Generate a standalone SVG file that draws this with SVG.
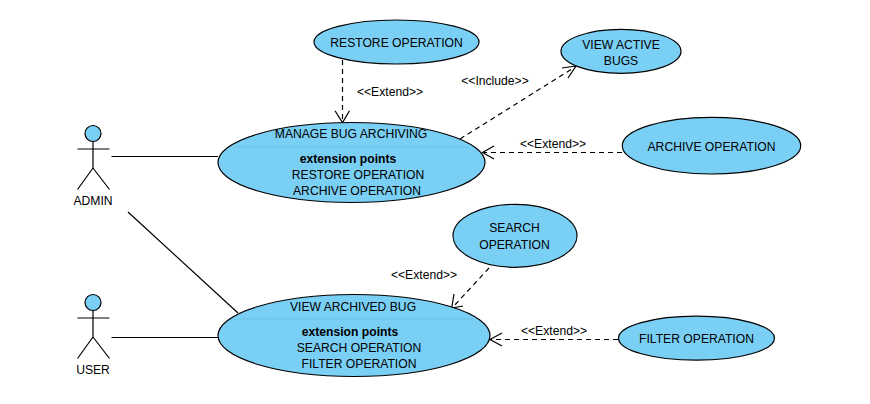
<svg xmlns="http://www.w3.org/2000/svg" width="870" height="404" viewBox="0 0 870 404">
<style>
text{font-family:"Liberation Sans",Arial,sans-serif;font-size:12.15px;fill:#000;text-anchor:middle}
.b{font-weight:bold}
.u{fill:#7acff5;stroke:#000;stroke-width:1.2}
.d{stroke:#6fc0e6;stroke-width:1;fill:none}
.a{fill:none;stroke:#000;stroke-width:1.2}
.c{fill:none;stroke:#000;stroke-width:1.2}
.x{fill:none;stroke:#000;stroke-width:1.2;stroke-dasharray:5 4}
</style>
<rect width="870" height="404" fill="#fff"/>
<g id="connectors">
<path class="c" d="M111.500 156.500H218"/>
<path class="c" d="M111.500 337.500H218"/>
<path class="c" d="M128 212L238 313"/>
<path class="x" d="M342.500 60V121"/>
<path class="c" d="M335 110.700L342.500 122.500L349.500 110.700"/>
<path class="x" d="M460 139L575 67"/>
<path class="c" d="M562 68L576 66L568 78"/>
<path class="x" d="M622 152.500H484"/>
<path class="c" d="M494 146L482.500 152.500L494 159"/>
<path class="x" d="M489 268L453 307"/>
<path class="c" d="M454 294L451.700 308L463 306"/>
<path class="x" d="M618 339.500H491"/>
<path class="c" d="M502 333L490 339.500L502 346"/>
<text x="390" y="96">&lt;&lt;Extend&gt;&gt;</text>
<text x="495" y="85">&lt;&lt;Include&gt;&gt;</text>
<text x="553" y="148">&lt;&lt;Extend&gt;&gt;</text>
<text x="424" y="279">&lt;&lt;Extend&gt;&gt;</text>
<text x="554" y="335">&lt;&lt;Extend&gt;&gt;</text>
</g>
<g id="actor-admin">
<circle class="u" cx="93" cy="133.500" r="8"/>
<path class="a" d="M93 141.500V168M77.500 149H109.500M93 168L77.500 189.500M93 168L109.500 189.500"/>
<text x="93" y="205">ADMIN</text>
</g>
<g id="actor-user">
<circle class="u" cx="93" cy="302.500" r="8"/>
<path class="a" d="M93 310.500V337M77.500 318H109.500M93 337L77.500 358.500M93 337L109.500 358.500"/>
<text x="93" y="374">USER</text>
</g>
<g id="manage-bug-archiving">
<ellipse class="u" cx="351.500" cy="162.500" rx="133.500" ry="40"/>
<path class="d" d="M234 147H469"/>
<text x="351" y="138">MANAGE BUG ARCHIVING</text>
<text class="b" x="348" y="163">extension points</text>
<text x="358" y="179">RESTORE OPERATION</text>
<text x="357" y="195">ARCHIVE OPERATION</text>
</g>
<g id="view-archived-bug">
<ellipse class="u" cx="354" cy="335.500" rx="136" ry="41"/>
<path class="d" d="M234 319H474"/>
<text x="353" y="311">VIEW ARCHIVED BUG</text>
<text class="b" x="350" y="336">extension points</text>
<text x="359" y="352">SEARCH OPERATION</text>
<text x="359" y="368">FILTER OPERATION</text>
</g>
<g id="restore-operation">
<ellipse class="u" cx="396.500" cy="42" rx="82.500" ry="22"/>
<text x="396.500" y="47">RESTORE OPERATION</text>
</g>
<g id="view-active-bugs">
<ellipse class="u" cx="621" cy="51.300" rx="60" ry="22"/>
<text x="621" y="48.500">VIEW ACTIVE</text>
<text x="621" y="65">BUGS</text>
</g>
<g id="archive-operation">
<ellipse class="u" cx="711.500" cy="145.700" rx="89.200" ry="28.300"/>
<text x="711.500" y="151">ARCHIVE OPERATION</text>
</g>
<g id="search-operation">
<ellipse class="u" cx="515" cy="235.800" rx="62" ry="31.500"/>
<text x="514.500" y="232">SEARCH</text>
<text x="514.500" y="249">OPERATION</text>
</g>
<g id="filter-operation">
<ellipse class="u" cx="696.500" cy="338.200" rx="78" ry="22"/>
<text x="696.500" y="343">FILTER OPERATION</text>
</g>
</svg>
